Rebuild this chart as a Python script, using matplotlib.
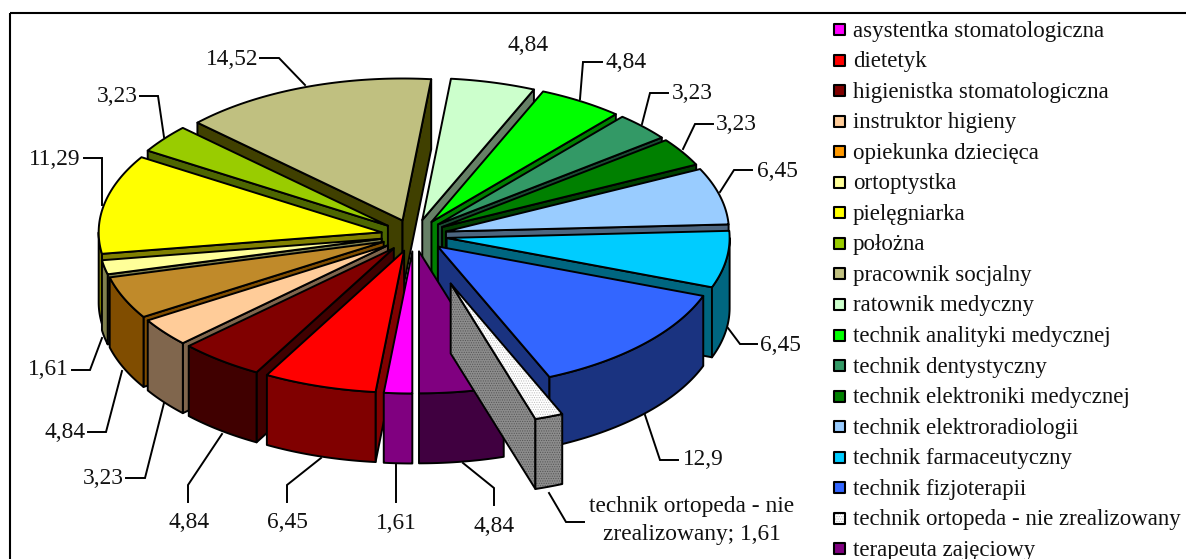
import numpy as np
import matplotlib
matplotlib.use("Agg")
import matplotlib.pyplot as plt
from matplotlib.patches import Polygon, Rectangle

plt.rcParams['font.family'] = ['Liberation Serif', 'DejaVu Serif']
plt.rcParams['hatch.linewidth'] = 0.5

categories = ['asystentka stomatologiczna', 'dietetyk', 'higienistka stomatologiczna',
              'instruktor higieny', 'opiekunka dziecięca', 'ortoptystka', 'pielęgniarka',
              'położna', 'pracownik socjalny', 'ratownik medyczny',
              'technik analityki medycznej', 'technik dentystyczny',
              'technik elektroniki medycznej', 'technik elektroradiologii',
              'technik farmaceutyczny', 'technik fizjoterapii',
              'technik ortopeda - nie zrealizowany', 'terapeuta zajęciowy']
values = [1.61, 6.45, 4.84, 3.23, 4.84, 1.61, 11.29, 3.23, 14.52,
          4.84, 4.84, 3.23, 3.23, 6.45, 6.45, 12.9, 1.61, 4.84]
value_labels = ['1,61', '6,45', '4,84', '3,23', '4,84', '1,61', '11,29', '3,23', '14,52',
                '4,84', '4,84', '3,23', '3,23', '6,45', '6,45', '12,9',
                'technik ortopeda - nie\nzrealizowany; 1,61', '4,84']

legend_colors = ['#FF00FF', '#FF0000', '#800000', '#FFCC99', '#FF9900', '#FFFF99', '#FFFF00',
                 '#99CC00', '#C0C080', '#CCFFCC', '#00FF00', '#339966', '#008000',
                 '#99CCFF', '#00CCFF', '#3366FF', '#FFFFFF', '#800080']
top_colors = list(legend_colors)
top_colors[4] = '#C08A2A'
wall_colors = ['#800080', '#800000', '#400000', '#80664D', '#804D00', '#80804D', '#808000',
               '#4D6600', '#404000', '#668066', '#008000', '#1A4D33', '#004000',
               '#4D6680', '#006680', '#1A3380', '#8C8C8C', '#400040']

# pie geometry, in pixels
cx, cy = 414, 235.5
a, b = 283, 142
depth = 70
explode_x, explode_y = 33, 16
big_explode = 3.2      # the pulled out slice
lw = 1.4

# text centre, then leader line (None = no line)
label_pos = [(396, 522), (287, 521), (189, 521), (103, 477), (65, 431), (48, 368), (55, 158),
             (117, 95), (232, 58), (528, 44), (626, 61), (692, 92), (736, 123), (777, 170),
             (780, 344), (703, 458), (692, 519), (494, 525)]
leaders = [[(396, 465), (396, 502)],
           [(321, 458), (287, 485), (287, 502)],
           [(222, 434), (188, 485), (188, 502)],
           [(164, 403), (145, 478), (126, 478)],
           [(122, 371), (106, 432), (88, 432)],
           [(102, 338), (90, 370), (72, 370)],
           [(102, 205), (102, 158), (84, 158)],
           [(164, 137), (158, 96), (140, 96)],
           [(305, 85), (279, 58), (260, 58)],
           None,
           [(580, 99), (583, 62), (602, 62)],
           [(642, 124), (650, 93), (668, 93)],
           [(683, 149), (695, 124), (713, 124)],
           [(720, 192), (734, 170), (752, 170)],
           [(728, 328), (740, 344), (757, 344)],
           [(645, 415), (660, 460), (678, 460)],
           [(549, 493), (566, 522), (584, 522)],
           [(463, 463), (494, 488), (494, 505)]]

fig = plt.figure(figsize=(11.86, 5.59), dpi=100)
ax = fig.add_axes([0, 0, 1, 1])
ax.set_xlim(0, 1186)
ax.set_ylim(559, 0)
ax.axis('off')

# frame, runs off the right and the bottom of the picture
ax.add_patch(Rectangle((10, 13), 1300, 700, fill=False, ec='black', lw=1.5))


def rim(ox, oy, phi):
    # phi in degrees, clockwise from the bottom of the pie
    p = np.radians(phi)
    return ox - a * np.sin(p), oy + b * np.cos(p)


def face(pts, color, dotted=False, dot_color='#777777', zorder=2, width=lw):
    pts = np.array(pts)
    if dotted:
        ax.add_patch(Polygon(pts, closed=True, fc=color, ec=dot_color, lw=0,
                             hatch='.......', zorder=zorder))
        ax.add_patch(Polygon(pts, closed=True, fill=False, ec='black', lw=width,
                             joinstyle='round', zorder=zorder))
    else:
        ax.add_patch(Polygon(pts, closed=True, fc=color, ec='black', lw=width,
                             joinstyle='round', zorder=zorder))


edges = np.concatenate([[0], np.cumsum(values)]) / np.sum(values) * 360
slices = []
for i in range(len(values)):
    phi0, phi1 = edges[i], edges[i + 1]
    mid = np.radians((phi0 + phi1) / 2)
    k = big_explode if categories[i].startswith('technik ortopeda') else 1.0
    ox = cx - k * explode_x * np.sin(mid)
    oy = cy + k * explode_y * np.cos(mid)
    key = oy + 0.5 * b * np.cos(mid)
    slices.append((key, i, phi0, phi1, ox, oy))

# back to front
for key, i, phi0, phi1, ox, oy in sorted(slices):
    dotted = categories[i].startswith('technik ortopeda')
    wall = wall_colors[i]
    # radial walls that face the viewer
    for phi, visible in ((phi0, np.sin(np.radians(phi0)) > 0),
                         (phi1, np.sin(np.radians(phi1)) < 0)):
        if visible:
            x, y = rim(ox, oy, phi)
            face([(ox, oy), (x, y), (x, y + depth), (ox, oy + depth)], wall, dotted, '#555555')
    # outer wall, front half only
    for lo, hi in ((0, 90), (270, 360)):
        s, e = max(phi0, lo), min(phi1, hi)
        if e > s:
            phis = np.linspace(s, e, 40)
            upper = [rim(ox, oy, p) for p in phis]
            lower = [(x, y + depth) for x, y in upper][::-1]
            face(upper + lower, wall, dotted, '#555555')
    # top
    phis = np.linspace(phi0, phi1, 60)
    face([(ox, oy)] + [rim(ox, oy, p) for p in phis], top_colors[i], dotted, '#BBBBBB')

# data labels and their leader lines
for i, text in enumerate(value_labels):
    if leaders[i] is not None:
        xs, ys = zip(*leaders[i])
        ax.plot(xs, ys, color='black', lw=lw, zorder=5, solid_joinstyle='miter')
    ax.text(label_pos[i][0], label_pos[i][1] + 1.5, text, ha='center', va='center', fontsize=16.8,
            color='#111111', linespacing=1.42, zorder=6)

# legend
for i, name in enumerate(categories):
    y = 29.5 + 30.55 * i
    dotted = name.startswith('technik ortopeda')
    face([(834, y - 5.5), (845, y - 5.5), (845, y + 5.5), (834, y + 5.5)], legend_colors[i],
         dotted, '#BBBBBB', zorder=3, width=1.5)
    ax.text(853, y + 1.5, name, ha='left', va='center', fontsize=16.5, color='#111111')

fig.savefig('out.png', dpi=100)
